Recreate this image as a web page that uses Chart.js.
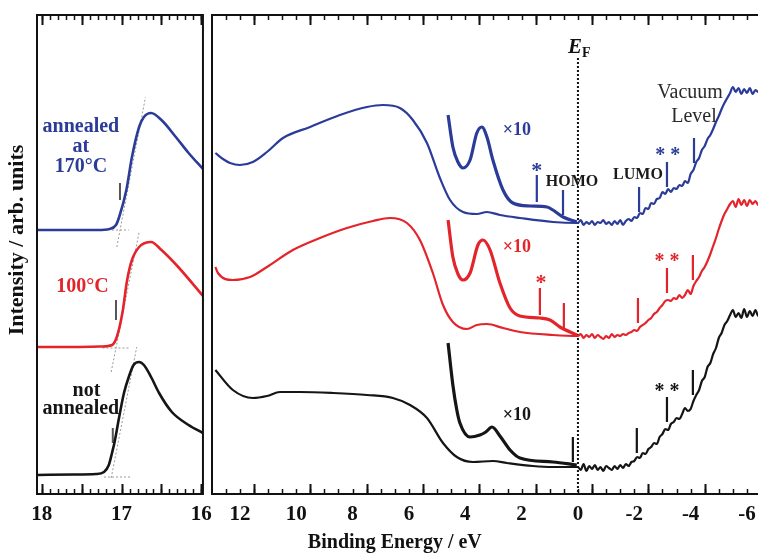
<!DOCTYPE html>
<html>
<head>
<meta charset="utf-8">
<script src="https://cdn.jsdelivr.net/npm/chart.js@4.4.1/dist/chart.umd.min.js"></script>
<style>
  body { margin: 0; background: #fff; overflow: hidden; width: 758px; height: 553px; position: relative; }
  canvas { position: absolute; top: 0; }
  #left { left: 0; }
  #right { left: 206px; }
</style>
</head>
<body>
<canvas id="left" width="220" height="553"></canvas>
<canvas id="right" width="580" height="553"></canvas>
<script>
const blueColor = '#2b3b98'
const redColor = '#e3242b'
const blackColor = '#151515'
const serif = '"Liberation Serif", "DejaVu Serif", serif'

// tick labels
const leftTicks = [18, 17, 16]
const rightTicks = [12, 10, 8, 6, 4, 2, 0, -2, -4, -6]

// secondary electron cutoff (left panel), [binding energy, intensity]
const cutoffBlue = [[18.06, 26.4], [17.6, 26.4], [17.3, 26.4], [17.15, 26.5], [17.07, 26.9], [17.03, 27.7], [16.94, 30.4], [16.87, 33.7], [16.78, 36.7], [16.72, 37.7], [16.63, 38.1], [16.50, 37.4], [16.32, 35.7], [16.16, 34.1], [15.98, 32.5]]
const cutoffRed = [[18.06, 14.7], [17.6, 14.7], [17.25, 14.75], [17.12, 14.9], [17.06, 15.7], [16.99, 18.1], [16.93, 21.4], [16.87, 23.4], [16.78, 24.7], [16.63, 25.2], [16.50, 24.4], [16.29, 22.7], [15.98, 19.8]]
const cutoffBlack = [[18.06, 1.9], [17.6, 1.95], [17.32, 2.0], [17.22, 2.2], [17.16, 2.9], [17.12, 4.1], [17.09, 5.1], [17.03, 7.7], [16.97, 10.1], [16.91, 11.7], [16.85, 12.9], [16.78, 13.2], [16.72, 12.9], [16.63, 11.7], [16.53, 10.1], [16.37, 8.2], [16.16, 6.9], [15.98, 6.1]]

// onset construction lines (left panel)
const guideBlue = [[17.06, 24.7], [16.70, 39.7], [null, null], [17.12, 26.4], [16.91, 26.4]]
const guideRed = [[17.13, 12.2], [16.78, 26.2], [null, null], [17.24, 14.6], [16.91, 14.6]]
const guideBlack = [[17.13, 1.6], [16.81, 14.7], [null, null], [17.22, 1.7], [16.88, 1.7]]
const onsetBars = [[17.02, 31.1], [17.02, 29.4], [null, null], [17.07, 19.4], [17.07, 17.4], [null, null], [17.11, 6.6], [17.11, 5.1]]

// valence / gap region (right panel)
const valBlue = [[12.87, 34.1], [12.6, 33.5], [12.35, 33.1], [12.0, 32.9], [11.54, 33.2], [11.04, 34.2], [10.47, 35.6], [9.51, 36.7], [8.45, 37.9], [7.49, 38.7], [6.92, 38.9], [6.32, 38.6], [5.86, 37.4], [5.36, 35.1], [4.90, 31.6], [4.54, 29.4], [4.08, 28.2], [3.59, 28.0], [3.23, 28.2], [2.77, 27.9], [2.06, 27.6], [0.89, 27.2], [0.0, 27.1],
  [-0.1, 27.4], [-0.2, 26.9], [-0.3, 27.2], [-0.4, 27.0], [-0.5, 27.3], [-0.6, 26.9], [-0.7, 27.2], [-0.8, 27.1], [-0.9, 27.4], [-1.0, 27.0], [-1.1, 27.2], [-1.2, 26.9], [-1.3, 27.3], [-1.4, 27.0], [-1.5, 27.4], [-1.6, 26.9], [-1.7, 27.3], [-1.8, 27.5], [-1.9, 27.3], [-2.0, 27.7],
  [-2.1, 27.6], [-2.2, 28.1], [-2.3, 28.0], [-2.4, 28.6], [-2.5, 28.5], [-2.6, 29.1], [-2.7, 29.0], [-2.8, 29.5], [-2.9, 29.6], [-3.0, 30.2], [-3.1, 30.0], [-3.2, 30.5], [-3.3, 30.2], [-3.4, 30.6], [-3.5, 30.5], [-3.6, 30.9], [-3.7, 30.8], [-3.8, 31.3], [-3.9, 31.1], [-4.0, 32.0],
  [-4.1, 32.4], [-4.2, 33.2], [-4.3, 33.6], [-4.4, 34.4], [-4.5, 34.8], [-4.6, 35.5], [-4.7, 35.9], [-4.8, 36.5], [-4.9, 37.2], [-5.0, 37.8], [-5.1, 38.5], [-5.2, 39.1], [-5.3, 39.6], [-5.4, 40.1], [-5.5, 40.7], [-5.6, 40.2], [-5.7, 40.6], [-5.8, 40.0], [-5.9, 40.5], [-6.0, 40.1],
  [-6.1, 40.6], [-6.2, 40.0], [-6.3, 40.4], [-6.4, 40.2], [-6.5, 40.5], [-6.64, 40.3]]
const valRed = [[12.87, 22.7], [12.78, 22.1], [12.25, 21.4], [11.64, 21.7], [11.04, 22.7], [10.12, 24.4], [9.16, 25.6], [8.20, 26.6], [7.28, 27.3], [6.67, 27.6], [6.07, 27.1], [5.61, 25.4], [5.15, 22.1], [4.79, 18.9], [4.44, 17.2], [3.94, 16.5], [3.59, 16.9], [3.23, 17.0], [2.66, 16.6], [2.06, 16.2], [0.89, 15.9], [0.0, 15.8],
  [-0.1, 16.0], [-0.2, 15.6], [-0.3, 15.9], [-0.4, 15.7], [-0.5, 16.0], [-0.6, 15.6], [-0.7, 15.9], [-0.8, 15.7], [-0.9, 15.5], [-1.0, 15.8], [-1.1, 15.6], [-1.2, 16.0], [-1.3, 15.7], [-1.4, 15.9], [-1.5, 15.8], [-1.6, 16.0], [-1.7, 15.9], [-1.8, 16.1], [-1.9, 16.2], [-2.0, 16.4],
  [-2.1, 16.3], [-2.2, 16.7], [-2.3, 16.9], [-2.4, 17.1], [-2.5, 17.4], [-2.6, 17.6], [-2.7, 18.0], [-2.8, 18.2], [-2.9, 18.6], [-3.0, 18.9], [-3.1, 19.3], [-3.2, 19.4], [-3.3, 19.3], [-3.4, 19.6], [-3.5, 19.5], [-3.6, 19.9], [-3.7, 19.6], [-3.8, 19.9], [-3.9, 20.4], [-4.0, 20.0],
  [-4.1, 20.8], [-4.2, 21.3], [-4.3, 21.7], [-4.4, 22.3], [-4.5, 22.7], [-4.6, 23.3], [-4.7, 24.0], [-4.8, 24.8], [-4.9, 25.6], [-5.0, 26.5], [-5.1, 27.3], [-5.2, 28.0], [-5.3, 28.5], [-5.4, 29.0], [-5.5, 29.3], [-5.6, 28.7], [-5.7, 29.5], [-5.8, 28.9], [-5.9, 29.4], [-6.0, 28.8],
  [-6.1, 29.4], [-6.2, 29.0], [-6.3, 29.3], [-6.4, 28.9], [-6.5, 29.2], [-6.64, 29.0]]
const valBlack = [[12.87, 12.4], [12.25, 10.4], [11.54, 9.6], [11.04, 9.8], [10.58, 10.2], [9.87, 10.2], [8.70, 10.1], [7.49, 9.9], [6.57, 9.6], [5.96, 8.9], [5.36, 7.6], [4.79, 5.1], [4.30, 3.7], [3.73, 3.2], [3.02, 3.3], [2.52, 3.1], [1.60, 2.8], [0.89, 2.7], [0.0, 2.7],
  [-0.1, 2.4], [-0.2, 3.0], [-0.3, 2.3], [-0.4, 2.8], [-0.5, 2.5], [-0.6, 2.9], [-0.7, 2.4], [-0.8, 2.7], [-0.9, 2.3], [-1.0, 2.8], [-1.1, 2.6], [-1.2, 2.4], [-1.3, 2.8], [-1.4, 2.5], [-1.5, 2.9], [-1.6, 2.6], [-1.7, 3.0], [-1.8, 2.8], [-1.9, 3.2], [-2.0, 3.3],
  [-2.1, 3.7], [-2.2, 3.6], [-2.3, 4.1], [-2.4, 4.0], [-2.5, 4.5], [-2.6, 4.7], [-2.7, 5.1], [-2.8, 5.0], [-2.9, 5.7], [-3.0, 6.0], [-3.1, 6.5], [-3.2, 6.4], [-3.3, 7.0], [-3.4, 7.2], [-3.5, 7.6], [-3.6, 7.5], [-3.7, 8.0], [-3.8, 8.6], [-3.9, 8.3], [-4.0, 8.5],
  [-4.1, 9.3], [-4.2, 9.9], [-4.3, 10.4], [-4.4, 11.3], [-4.5, 11.7], [-4.6, 12.7], [-4.7, 13.1], [-4.8, 14.0], [-4.9, 14.6], [-5.0, 15.6], [-5.1, 16.1], [-5.2, 16.9], [-5.3, 17.3], [-5.4, 17.9], [-5.5, 18.4], [-5.6, 17.7], [-5.7, 18.1], [-5.8, 17.6], [-5.9, 18.5], [-6.0, 17.7],
  [-6.1, 18.3], [-6.2, 17.8], [-6.3, 18.4], [-6.4, 17.8], [-6.5, 18.2], [-6.64, 17.9]]

// x10 magnified traces
const zoomBlue = [[4.61, 37.9], [4.44, 34.7], [4.26, 33.2], [4.08, 32.6], [3.83, 33.4], [3.59, 36.1], [3.41, 36.7], [3.23, 35.7], [3.02, 33.4], [2.66, 30.4], [2.31, 29.1], [1.70, 28.8], [1.10, 28.7], [0.89, 28.4], [0.53, 27.7], [0.04, 27.2]]
const zoomRed = [[4.61, 27.4], [4.44, 23.7], [4.26, 22.0], [4.08, 21.4], [3.83, 22.1], [3.55, 24.9], [3.37, 25.4], [3.12, 24.4], [2.77, 21.1], [2.41, 18.6], [2.06, 17.8], [1.35, 17.6], [0.99, 17.4], [0.64, 16.7], [0.04, 15.9]]
const zoomBlack = [[4.61, 15.1], [4.44, 10.9], [4.30, 8.4], [4.19, 7.1], [3.83, 5.7], [3.48, 5.9], [3.27, 6.2], [3.05, 6.7], [2.77, 5.8], [2.41, 4.4], [2.06, 3.6], [0.89, 3.2], [0.04, 2.9]]

// level markers (vertical bars)
const marksBlue = [[1.46, 31.9], [1.46, 29.2], [null, null], [0.53, 30.4], [0.53, 27.9], [null, null], [-2.17, 30.7], [-2.17, 28.2], [null, null], [-3.16, 33.2], [-3.16, 30.7], [null, null], [-4.12, 35.6], [-4.12, 33.1]]
const marksRed = [[1.35, 20.6], [1.35, 17.9], [null, null], [0.50, 19.1], [0.50, 16.6], [null, null], [-2.13, 19.6], [-2.13, 17.1], [null, null], [-3.16, 22.6], [-3.16, 20.1], [null, null], [-4.08, 23.9], [-4.08, 21.4]]
const marksBlack = [[0.18, 5.7], [0.18, 3.2], [null, null], [-2.09, 6.6], [-2.09, 4.1], [null, null], [-3.16, 9.7], [-3.16, 7.2], [null, null], [-4.08, 12.4], [-4.08, 9.9]]
const fermiLine = [[0, 43.6], [0, 0]]

const leftNotes = [
  { text: 'annealed', x: 17.51, y: 36.7, color: blueColor, font: 'bold 20px ' + serif },
  { text: 'at', x: 17.51, y: 34.7, color: blueColor, font: 'bold 20px ' + serif },
  { text: '170°C', x: 17.51, y: 32.7, color: blueColor, font: 'bold 20px ' + serif },
  { text: '100°C', x: 17.49, y: 20.7, color: redColor, font: 'bold 20px ' + serif },
  { text: 'not', x: 17.44, y: 10.3, color: blackColor, font: 'bold 20px ' + serif },
  { text: 'annealed', x: 17.51, y: 8.5, color: blackColor, font: 'bold 20px ' + serif },
  { text: 'Intensity / arb. units', x: 18.31, y: 25.4, color: '#111', font: 'bold 22px ' + serif, rotate: -Math.PI / 2 }
]
const rightNotes = [
  { text: '×10', x: 2.17, y: 36.4, color: blueColor, font: 'bold 18px ' + serif },
  { text: '×10', x: 2.17, y: 24.7, color: redColor, font: 'bold 18px ' + serif },
  { text: '×10', x: 2.17, y: 7.9, color: blackColor, font: 'bold 18px ' + serif },
  { text: '*', x: 1.46, y: 32.3, color: blueColor, font: 'bold 22px ' + serif },
  { text: '*', x: 1.31, y: 21.1, color: redColor, font: 'bold 22px ' + serif },
  { text: '* *', x: -3.19, y: 33.8, color: blueColor, font: 'bold 20px ' + serif },
  { text: '* *', x: -3.16, y: 23.2, color: redColor, font: 'bold 20px ' + serif },
  { text: '* *', x: -3.16, y: 10.2, color: blackColor, font: 'bold 20px ' + serif },
  { text: 'HOMO', x: 0.21, y: 31.2, color: '#1a1a1a', font: 'bold 16px ' + serif },
  { text: 'LUMO', x: -2.13, y: 31.9, color: '#1a1a1a', font: 'bold 16px ' + serif },
  { text: 'Vacuum', x: -3.98, y: 40.1, color: '#2a2a2a', font: '20px ' + serif },
  { text: 'Level', x: -4.12, y: 37.7, color: '#2a2a2a', font: '20px ' + serif },
  { text: 'E', sub: 'F', x: 0, y: 44.6, color: '#111', font: 'italic bold 21px ' + serif, subFont: 'bold 14px ' + serif },
  { text: 'Binding Energy / eV', x: 6.5, y: -4.9, color: '#111', font: 'bold 20px ' + serif }
]

const pts = arr => arr.map(p => ({ x: p[0], y: p[1] }))

function line (data, color, width, extra) {
  return Object.assign({
    data: pts(data), borderColor: color, borderWidth: width, pointRadius: 0,
    cubicInterpolationMode: 'monotone', fill: false
  }, extra || {})
}

const framePlugin = {
  id: 'frame',
  afterDraw (chart, args, opts) {
    const { ctx, chartArea: a } = chart
    const x = chart.scales.x
    ctx.save()
    ctx.strokeStyle = '#111'
    ctx.lineWidth = 2
    ctx.strokeRect(a.left, a.top, a.right - a.left, a.bottom - a.top)
    const mark = (v, len, w) => {
      const px = Math.round(x.getPixelForValue(v)) + 0.5
      if (px < a.left + 1 || px > a.right - 1) return
      ctx.lineWidth = w
      ctx.beginPath()
      ctx.moveTo(px, a.top); ctx.lineTo(px, a.top + len)
      ctx.moveTo(px, a.bottom); ctx.lineTo(px, a.bottom - len)
      ctx.stroke()
    }
    for (let v = opts.from; v <= opts.to + 1e-9; v += opts.minor) mark(v, 5, 1.5)
    for (let v = opts.from; v <= opts.to + 1e-9; v += opts.major) mark(v, 10, 2)
    ctx.restore()
  }
}

const notesPlugin = {
  id: 'notes',
  afterDraw (chart, args, opts) {
    const { ctx, scales: { x, y } } = chart
    ctx.save()
    ctx.textAlign = 'center'
    ctx.textBaseline = 'middle'
    opts.items.forEach(n => {
      const px = x.getPixelForValue(n.x)
      const py = y.getPixelForValue(n.y)
      ctx.fillStyle = n.color
      ctx.font = n.font
      if (n.rotate) {
        ctx.save()
        ctx.translate(px, py)
        ctx.rotate(n.rotate)
        ctx.fillText(n.text, 0, 0)
        ctx.restore()
      } else if (n.sub) {
        const w = ctx.measureText(n.text).width
        ctx.textAlign = 'left'
        ctx.fillText(n.text, px - w / 2 - 3, py)
        ctx.font = n.subFont
        ctx.fillText(n.sub, px + w / 2 - 3, py + 5)
        ctx.textAlign = 'center'
      } else {
        ctx.fillText(n.text, px, py)
      }
    })
    ctx.restore()
  }
}

const tickFont = { family: serif, size: 21, weight: 'bold' }

function xAxis (min, max, ticks) {
  return {
    type: 'linear', reverse: true, min: min, max: max,
    grid: { display: false, drawTicks: false },
    border: { display: false },
    afterBuildTicks: ax => { ax.ticks = ticks.map(v => ({ value: v })) },
    afterFit: ax => { ax.height = 40 },
    ticks: { font: tickFont, color: '#111', padding: 8, maxRotation: 0, autoSkip: false }
  }
}

new Chart(document.getElementById('left'), {
  type: 'line',
  data: {
    datasets: [
      line(cutoffBlue, blueColor, 2.6),
      line(cutoffRed, redColor, 2.6),
      line(cutoffBlack, blackColor, 2.6),
      line(onsetBars, '#555', 2, { cubicInterpolationMode: 'default', tension: 0 }),
      line(guideBlue, '#999', 1, { borderDash: [2, 2], tension: 0, cubicInterpolationMode: 'default' }),
      line(guideRed, '#999', 1, { borderDash: [2, 2], tension: 0, cubicInterpolationMode: 'default' }),
      line(guideBlack, '#999', 1, { borderDash: [2, 2], tension: 0, cubicInterpolationMode: 'default' })
    ]
  },
  options: {
    responsive: false,
    animation: false,
    layout: { padding: { left: 37, right: 15, top: 15, bottom: 19 } },
    plugins: {
      legend: { display: false },
      tooltip: { enabled: false },
      frame: { from: 16, to: 18, minor: 0.1, major: 0.5 },
      notes: { items: leftNotes }
    },
    scales: {
      x: xAxis(15.98, 18.06, leftTicks),
      y: { display: false, min: 0, max: 47.9 }
    }
  },
  plugins: [framePlugin, notesPlugin]
})

new Chart(document.getElementById('right'), {
  type: 'line',
  data: {
    datasets: [
      line(zoomBlue, blueColor, 3.2),
      line(zoomRed, redColor, 3.2),
      line(zoomBlack, blackColor, 3.2),
      line(valBlue, blueColor, 2.2),
      line(valRed, redColor, 2.2),
      line(valBlack, blackColor, 2.2),
      line(marksBlue, blueColor, 2.2, { tension: 0, cubicInterpolationMode: 'default' }),
      line(marksRed, redColor, 2.2, { tension: 0, cubicInterpolationMode: 'default' }),
      line(marksBlack, blackColor, 2.2, { tension: 0, cubicInterpolationMode: 'default' }),
      line(fermiLine, '#111', 2, { borderDash: [2, 2], tension: 0, cubicInterpolationMode: 'default' })
    ]
  },
  options: {
    responsive: false,
    animation: false,
    layout: { padding: { left: 6, right: 21, top: 15, bottom: 19 } },
    plugins: {
      legend: { display: false },
      tooltip: { enabled: false },
      frame: { from: -6.5, to: 13, minor: 0.5, major: 2 },
      notes: { items: rightNotes }
    },
    scales: {
      x: xAxis(-6.64, 12.99, rightTicks),
      y: { display: false, min: 0, max: 47.9 }
    }
  },
  plugins: [framePlugin, notesPlugin]
})
</script>
</body>
</html>
